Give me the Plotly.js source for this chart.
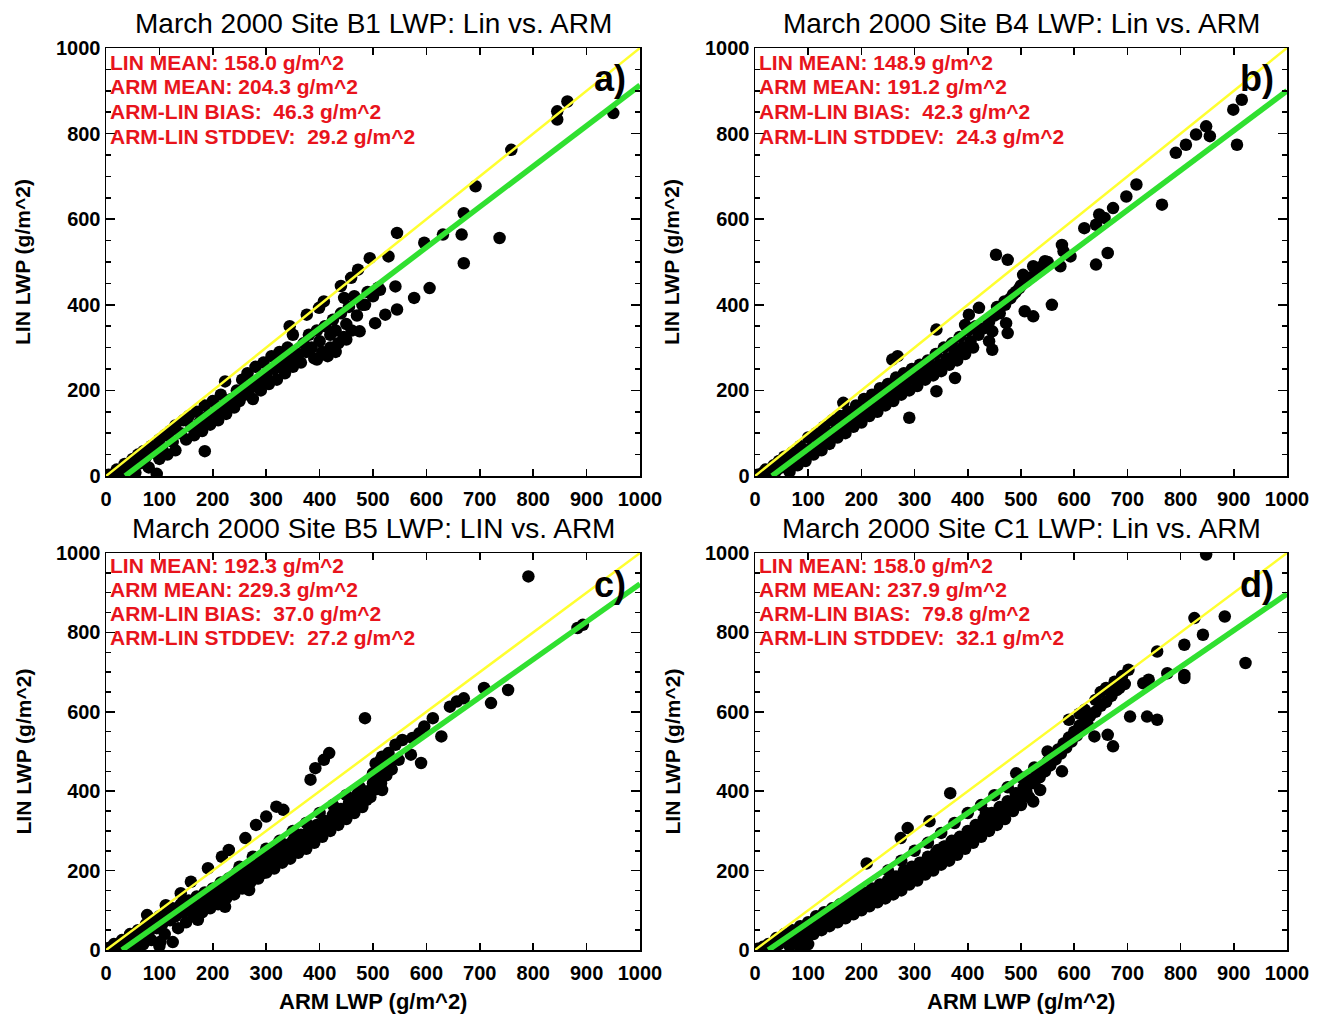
<!DOCTYPE html>
<html><head><meta charset="utf-8">
<script src="https://cdn.plot.ly/plotly-3.0.1.min.js"></script>
<style>html,body{margin:0;padding:0;background:#fff}</style>
</head><body><div id="chart" style="width:1325px;height:1017px"></div>
<script>
const titleTexts = ["March 2000 Site B1 LWP: Lin vs. ARM", "March 2000 Site B4 LWP: Lin vs. ARM", "March 2000 Site B5 LWP: LIN vs. ARM", "March 2000 Site C1 LWP: Lin vs. ARM"];
const panelLabels = ["a)", "b)", "c)", "d)"];
const linMean = ["158.0", "148.9", "192.3", "158.0"];
const armMean = ["204.3", "191.2", "229.3", "237.9"];
const biasVals = ["46.3", "42.3", "37.0", "79.8"];
const stdVals = ["29.2", "24.3", "27.2", "32.1"];
const xTickVals = [0,100,200,300,400,500,600,700,800,900,1000];
const yTickVals = [0,200,400,600,800,1000];
const xTitle = "ARM LWP (g/m^2)";
const yTitle = "LIN LWP (g/m^2)";

// 1:1 reference line
const oneToOneX = [0, 1000];
const oneToOneY = [0, 1000];
// fitted lines (green)
const fitAX = [36, 1000], fitAY = [0, 913];
const fitBX = [32, 1000], fitBY = [0, 900];
const fitCX = [30, 1000], fitCY = [0, 922];
const fitDX = [25, 1000], fitDY = [0, 897];

// scatter points [ARM, LIN]
const ptsA = [[5,3],[15,5],[20,15],[30,10],[35,28],[45,20],[50,40],[55,8],[60,50],[65,30],[70,58],[75,45],[80,20],[85,70],[90,55],[95,5],[100,85],[100,40],[105,65],[110,95],[115,50],[120,105],[125,80],[130,118],[130,60],[140,100],[145,130],[150,85],[155,140],[160,115],[165,95],[170,150],[175,125],[180,105],[185,58],[185,165],[190,140],[195,120],[200,175],[205,150],[210,130],[215,190],[220,165],[223,221],[225,145],[235,180],[240,160],[245,200],[250,175],[255,225],[260,190],[265,240],[270,205],[275,180],[280,255],[285,220],[290,200],[295,265],[300,235],[305,215],[310,280],[315,250],[320,225],[325,290],[330,260],[335,240],[340,300],[345,275],[350,255],[350,330],[344,350],[360,285],[365,265],[370,310],[375,290],[376,377],[380,330],[385,300],[390,275],[395,340],[395,272],[399,393],[400,315],[405,290],[408,408],[410,350],[415,280],[420,330],[420,300],[425,365],[430,340],[430,290],[435,310],[440,380],[440,444],[445,325],[446,416],[450,355],[450,319],[455,395],[460,340],[459,463],[465,420],[470,375],[472,482],[475,338],[480,400],[485,400],[490,430],[494,509],[500,420],[504,357],[510,440],[513,435],[523,377],[529,513],[542,443],[545,389],[545,568],[577,416],[596,545],[606,439],[631,564],[666,564],[670,497],[670,614],[692,677],[737,556],[759,762],[845,833],[845,852],[864,875],[950,848]];
const ptsB = [[5,3],[15,8],[20,15],[28,5],[35,25],[40,12],[45,35],[50,20],[55,45],[60,30],[65,10],[70,55],[75,38],[80,25],[85,70],[90,50],[95,35],[100,90],[105,65],[110,50],[115,100],[120,80],[125,60],[130,115],[135,95],[140,75],[145,130],[150,105],[155,90],[160,140],[165,120],[166,171],[170,100],[175,150],[180,130],[185,115],[190,165],[195,140],[200,125],[205,180],[210,155],[215,140],[220,190],[225,170],[230,150],[235,205],[240,180],[245,165],[250,215],[255,195],[258,272],[260,175],[265,230],[268,280],[270,205],[275,190],[280,240],[285,220],[290,200],[290,136],[295,250],[300,230],[305,210],[310,260],[315,240],[320,225],[325,270],[330,250],[335,235],[340,285],[341,342],[341,198],[345,260],[350,245],[355,300],[360,275],[365,260],[370,310],[375,290],[376,229],[380,270],[385,325],[390,300],[395,285],[395,353],[400,340],[402,377],[405,315],[410,300],[415,350],[420,330],[421,393],[430,345],[440,360],[440,315],[446,338],[446,295],[450,375],[453,517],[455,395],[460,380],[469,408],[470,400],[472,357],[475,334],[475,505],[480,415],[485,424],[490,430],[497,439],[500,445],[504,470],[507,385],[510,455],[520,465],[523,373],[523,490],[530,480],[540,490],[545,502],[550,500],[558,400],[574,490],[577,540],[580,525],[593,513],[619,579],[641,587],[641,494],[647,611],[657,603],[663,521],[673,626],[698,653],[717,681],[765,634],[791,755],[810,774],[829,798],[848,817],[855,794],[899,856],[906,774],[915,879]];
const ptsC = [[5,5],[15,15],[20,8],[30,25],[35,10],[45,40],[50,25],[55,5],[60,50],[65,35],[70,15],[75,65],[77,88],[80,45],[85,25],[90,75],[95,55],[100,10],[100,85],[102,21],[105,65],[110,40],[112,113],[115,95],[120,75],[125,20],[125,105],[130,85],[135,55],[140,115],[140,143],[145,95],[150,70],[155,125],[159,172],[160,105],[165,85],[170,135],[172,76],[175,115],[180,95],[185,145],[190,125],[191,206],[195,105],[200,155],[205,135],[210,115],[215,170],[217,235],[220,150],[223,109],[225,130],[230,180],[230,252],[235,160],[240,140],[245,195],[250,175],[250,210],[255,155],[260,205],[261,282],[265,185],[268,151],[270,170],[275,215],[275,235],[280,200],[281,315],[281,185],[285,180],[290,230],[293,193],[295,210],[300,195],[300,255],[300,336],[305,240],[310,225],[315,205],[319,361],[320,250],[325,235],[325,275],[330,220],[332,353],[335,265],[340,245],[345,230],[350,275],[350,300],[355,260],[360,245],[365,290],[370,270],[375,255],[375,320],[380,300],[383,429],[385,285],[390,270],[392,458],[395,315],[400,300],[400,345],[405,285],[408,479],[410,325],[415,310],[418,496],[420,300],[425,340],[425,365],[430,325],[435,315],[440,355],[445,340],[450,330],[450,390],[455,370],[460,355],[465,345],[470,385],[472,395],[475,370],[475,410],[480,360],[485,584],[488,378],[490,400],[495,385],[500,420],[500,445],[505,405],[505,470],[510,435],[515,420],[515,480],[517,403],[517,487],[520,450],[525,440],[529,496],[530,465],[535,455],[542,517],[548,479],[555,529],[571,492],[574,534],[587,546],[590,471],[596,563],[612,584],[628,538],[644,613],[657,626],[670,634],[708,660],[721,622],[753,655],[791,941],[883,811],[893,819]];
const ptsD = [[5,3],[15,8],[25,15],[30,5],[40,30],[45,15],[55,40],[60,25],[65,10],[70,50],[75,35],[80,20],[85,5],[85,60],[90,45],[95,30],[100,15],[100,70],[105,55],[110,40],[115,85],[120,65],[125,50],[130,95],[135,75],[140,60],[145,105],[150,85],[155,70],[160,115],[165,95],[170,80],[175,125],[180,105],[185,90],[190,135],[195,115],[200,100],[205,145],[210,125],[210,218],[215,110],[220,155],[225,135],[230,120],[235,165],[240,145],[245,130],[250,175],[250,200],[255,160],[260,140],[265,185],[270,170],[274,282],[275,150],[275,225],[277,160],[280,200],[285,180],[287,307],[290,165],[293,193],[295,210],[300,195],[300,250],[305,175],[310,220],[315,205],[320,190],[325,235],[325,270],[328,324],[330,215],[332,206],[335,200],[340,245],[344,252],[345,230],[350,215],[350,295],[355,260],[357,261],[360,240],[365,225],[367,395],[370,275],[375,255],[375,320],[380,240],[383,277],[385,285],[390,270],[395,255],[400,300],[400,345],[402,294],[405,285],[410,270],[415,315],[418,311],[420,300],[425,285],[425,365],[430,330],[434,345],[435,315],[440,300],[445,345],[450,330],[450,390],[455,315],[460,360],[465,345],[470,330],[475,375],[475,410],[480,360],[485,350],[490,395],[491,445],[495,380],[500,365],[500,435],[504,395],[505,410],[510,412],[510,400],[515,385],[520,430],[523,374],[525,420],[525,460],[530,445],[535,435],[536,403],[540,460],[545,450],[548,466],[550,475],[550,500],[555,465],[560,490],[565,480],[570,505],[575,495],[577,450],[580,520],[585,510],[590,535],[590,580],[595,525],[600,550],[605,540],[610,565],[610,595],[615,555],[620,575],[620,605],[625,570],[630,590],[638,538],[640,600],[640,630],[650,615],[650,650],[660,625],[660,660],[663,542],[670,640],[673,513],[676,676],[680,655],[685,660],[690,690],[695,670],[702,706],[705,588],[730,672],[737,588],[740,681],[756,752],[756,580],[775,697],[807,769],[807,693],[807,685],[826,836],[842,794],[848,996],[883,840],[922,723]];

const W = 1325, H = 1017;
const px = v => v / W;
const py = v => 1 - v / H;
const FONT = "Liberation Sans, Arial, Helvetica, sans-serif";

// panel boxes in pixels: [left, right, top, bottom]
const boxes = [[106, 640, 48, 476], [755, 1287, 48, 476], [106, 640, 553, 950], [755, 1287, 553, 950]];
const allPts = [ptsA, ptsB, ptsC, ptsD];
const fitsX = [fitAX, fitBX, fitCX, fitDX];
const fitsY = [fitAY, fitBY, fitCY, fitDY];

const traces = [];
const layout = {
  width: W, height: H, margin: {l: 0, r: 0, t: 0, b: 0},
  paper_bgcolor: "#fff", plot_bgcolor: "#fff", showlegend: false,
  annotations: []
};
const redCol = "#e8141c";

for (let i = 0; i < 4; i++) {
  const sfx = i === 0 ? "" : String(i + 1);
  const xa = "x" + sfx, ya = "y" + sfx;
  const [L, R, T, B] = boxes[i];
  traces.push({type: "scatter", mode: "markers", x: allPts[i].map(p => p[0]), y: allPts[i].map(p => p[1]),
    xaxis: xa, yaxis: ya, marker: {color: "#000", size: 12.5, line: {width: 0}}, hoverinfo: "x+y"});
  traces.push({type: "scatter", mode: "lines", x: oneToOneX, y: oneToOneY, xaxis: xa, yaxis: ya,
    line: {color: "#ffff30", width: 2.5}});
  traces.push({type: "scatter", mode: "lines", x: fitsX[i], y: fitsY[i], xaxis: xa, yaxis: ya,
    line: {color: "#30e030", width: 5.5}});

  const axCommon = {
    range: [0, 1000], showgrid: false, zeroline: false, showline: true, linecolor: "#000", linewidth: 1.5,
    mirror: "allticks", ticks: "inside", tickcolor: "#000", tickwidth: 1.5,
    tickfont: {family: FONT, size: 20, color: "#000", weight: 700}, fixedrange: true
  };
  layout["xaxis" + sfx] = Object.assign({}, axCommon, {
    domain: [px(L), px(R)], anchor: ya, tickmode: "array", tickvals: xTickVals, ticklen: 7, ticklabelstandoff: 4
  });
  layout["yaxis" + sfx] = Object.assign({}, axCommon, {
    domain: [py(B), py(T)], anchor: xa, tickmode: "array", tickvals: yTickVals, ticklen: 9,
    minor: {dtick: 50, tick0: 0, ticks: "inside", ticklen: 5, tickcolor: "#000", tickwidth: 1.5, showgrid: false}
  });

  const cx = (L + R) / 2;
  // title
  layout.annotations.push({xref: "paper", yref: "paper", x: px(cx), y: py(T - 25), text: titleTexts[i],
    showarrow: false, xanchor: "center", yanchor: "middle", font: {family: FONT, size: 28, color: "#000"}});
  // y axis title
  layout.annotations.push({xref: "paper", yref: "paper", x: px(L - 83), y: py((T + B) / 2), text: yTitle,
    showarrow: false, textangle: -90, xanchor: "center", yanchor: "middle",
    font: {family: FONT, size: 21, color: "#000", weight: 700}});
  if (i >= 2) {
    layout.annotations.push({xref: "paper", yref: "paper", x: px(cx), y: py(1001), text: xTitle,
      showarrow: false, xanchor: "center", yanchor: "middle", font: {family: FONT, size: 22, color: "#000", weight: 700}});
  }
  // panel label
  layout.annotations.push({xref: "paper", yref: "paper", x: px(R - 30), y: py(T + 31), text: panelLabels[i],
    showarrow: false, xanchor: "center", yanchor: "middle", font: {family: FONT, size: 36, color: "#000", weight: 700}});
  // statistics text
  const nb = "\u00a0";
  const lines = [
    "LIN MEAN:" + nb + linMean[i] + nb + "g/m^2",
    "ARM MEAN:" + nb + armMean[i] + nb + "g/m^2",
    "ARM-LIN BIAS:" + nb + nb + biasVals[i] + nb + "g/m^2",
    "ARM-LIN STDDEV:" + nb + nb + stdVals[i] + nb + "g/m^2"
  ];
  const top0 = i < 2 ? 62 : 565;
  const dy = i < 2 ? 25 : 24;
  lines.forEach((t, k) => {
    layout.annotations.push({xref: "paper", yref: "paper", x: px(L + 2), y: py(top0 + k * dy), text: t,
      showarrow: false, xanchor: "left", yanchor: "middle", font: {family: FONT, size: 21, color: redCol, weight: 700}});
  });
}

Plotly.newPlot("chart", traces, layout, {displayModeBar: false, staticPlot: true});
</script></body></html>
